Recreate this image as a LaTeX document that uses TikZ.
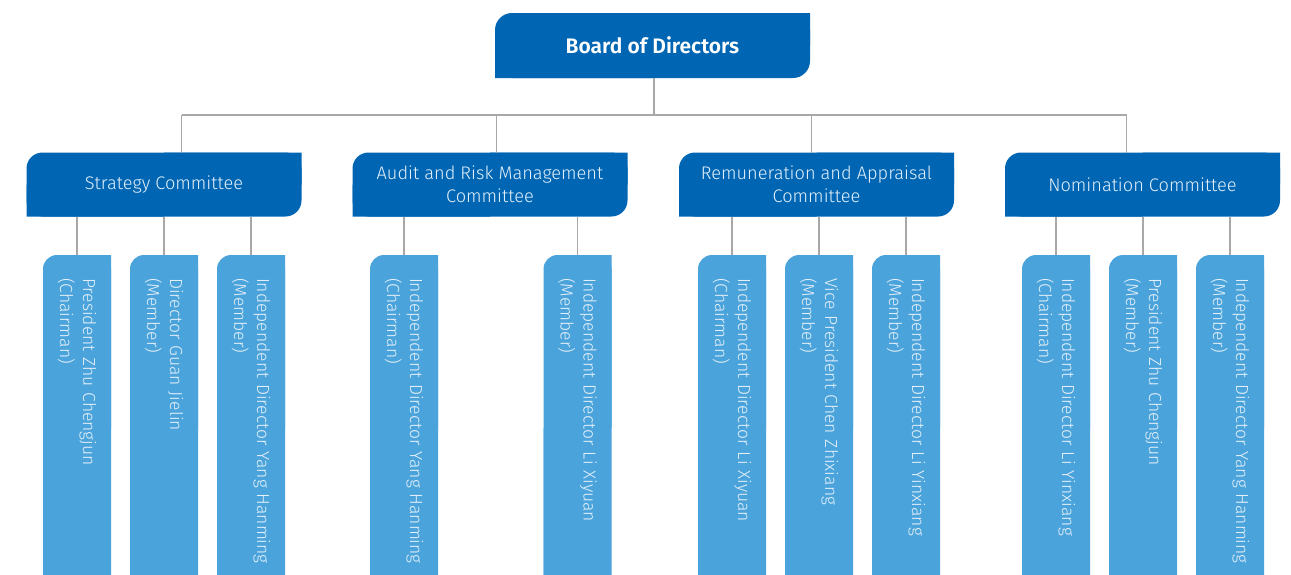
\documentclass[tikz,border=0pt]{standalone}
\usepackage{fontspec}
\setmainfont{Fira Sans Light}[BoldFont={Fira Sans SemiBold}]
\usetikzlibrary{backgrounds}

\definecolor{boardblue}{RGB}{0,102,179}
\definecolor{memberblue}{RGB}{74,163,218}
\definecolor{linkgray}{RGB}{168,168,168}
\definecolor{paletext}{RGB}{228,240,250}

\begin{document}
\begin{tikzpicture}[x=1pt,y=-1pt,
    link/.style={draw=linkgray,line width=1.6pt},
    head/.style={fill=boardblue,rounded corners=17pt,text=white,inner sep=0pt,outer sep=0pt,
      font=\bfseries\fontsize{21}{25}\selectfont,minimum width=315pt,minimum height=65pt},
    committee/.style={fill=boardblue,rounded corners=16pt,text=paletext,inner sep=0pt,outer sep=0pt,
      align=center,font=\fontsize{18.2}{23}\selectfont,minimum width=275pt,minimum height=64pt},
    member/.style={fill=memberblue,rounded corners=14pt,text=paletext,rotate=-90,outer sep=0pt,
      align=left,font=\fontsize{17.5}{23}\selectfont,text width=300pt,inner xsep=23pt,
      inner ysep=0pt,minimum height=68pt}]

    \useasboundingbox (0,0) rectangle (1291,574);
    \clip (0,0) rectangle (1291,574);

    % board and committees
    \node[head] (B) at (652.5,45.5) {Board of Directors};
    \node[committee] (SC) at (164,184.5) {Strategy Committee};
    \node[committee] (AC) at (490,184.5) {Audit and Risk Management\\Committee};
    \node[committee] (RC) at (816.5,184.5) {Remuneration and Appraisal\\Committee};
    \node[committee] (NC) at (1142.5,184.5) {Nomination Committee};

    % members
    \node[member] (SC1) at (77,428) {President Zhu Chengjun\\(Chairman)};
    \node[member] (SC2) at (164,428) {Director Guan Jielin\\(Member)};
    \node[member] (SC3) at (251,428) {Independent Director Yang Hanming\\(Member)};
    \node[member] (AC1) at (404,428) {Independent Director Yang Hanming\\(Chairman)};
    \node[member] (AC2) at (577.5,428) {Independent Director Li Xiyuan\\(Member)};
    \node[member] (RC1) at (732,428) {Independent Director Li Xiyuan\\(Chairman)};
    \node[member] (RC2) at (819,428) {Vice President Chen Zhixiang\\(Member)};
    \node[member] (RC3) at (906,428) {Independent Director Li Yinxiang\\(Member)};
    \node[member] (NC1) at (1056,428) {Independent Director Li Yinxiang\\(Chairman)};
    \node[member] (NC2) at (1143,428) {President Zhu Chengjun\\(Member)};
    \node[member] (NC3) at (1230,428) {Independent Director Yang Hanming\\(Member)};

    % square corners
    \begin{scope}[on background layer]
      \foreach \n in {B,SC,AC,RC,NC}
        \fill[boardblue] (\n.north) rectangle (\n.east) (\n.west) rectangle (\n.south);
      \foreach \n in {SC1,SC2,SC3,AC1,AC2,RC1,RC2,RC3,NC1,NC2,NC3}
        \fill[memberblue] (\n.north) rectangle (\n.west) (\n.south) rectangle (\n.east);
    \end{scope}

    % connectors
    \coordinate (bus) at (654,115);
    \coordinate (d1) at (181.5,115);
    \coordinate (d2) at (496.5,115);
    \coordinate (d3) at (811.5,115);
    \coordinate (d4) at (1126.5,115);
    \draw[link] (bus |- B.south) -- (bus);
    \draw[link] (d1) -- (d4);
    \draw[link] (d1) -- (d1 |- SC.north);
    \draw[link] (d2) -- (d2 |- AC.north);
    \draw[link] (d3) -- (d3 |- RC.north);
    \draw[link] (d4) -- (d4 |- NC.north);

    \draw[link] (SC1.west) -- (SC1.west |- SC.south);
    \draw[link] (SC2.west) -- (SC2.west |- SC.south);
    \draw[link] (SC3.west) -- (SC3.west |- SC.south);
    \draw[link] (AC1.west) -- (AC1.west |- AC.south);
    \draw[link] (AC2.west) -- (AC2.west |- AC.south);
    \draw[link] (RC1.west) -- (RC1.west |- RC.south);
    \draw[link] (RC2.west) -- (RC2.west |- RC.south);
    \draw[link] (RC3.west) -- (RC3.west |- RC.south);
    \draw[link] (NC1.west) -- (NC1.west |- NC.south);
    \draw[link] (NC2.west) -- (NC2.west |- NC.south);
    \draw[link] (NC3.west) -- (NC3.west |- NC.south);

\end{tikzpicture}
\end{document}
